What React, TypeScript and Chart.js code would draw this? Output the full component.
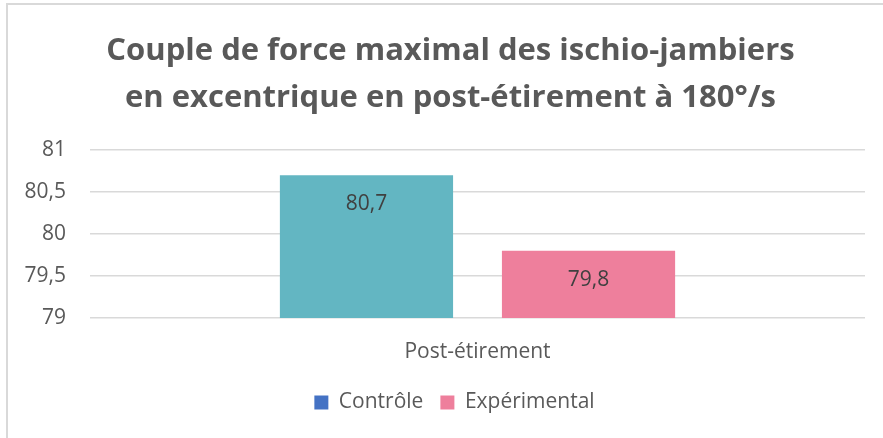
import React, { useEffect, useRef } from "react";
import { Chart, registerables } from "chart.js";

Chart.register(...registerables);

const categories = ["Post-étirement"];
const seriesNames = ["Contrôle", "Expérimental"];
const controle = [80.7];
const experimental = [79.8];
const yTicks = [79, 79.5, 80, 80.5, 81];
const titleLines = [
  "Couple de force maximal des ischio-jambiers",
  "en excentrique en post-étirement à 180°/s",
];

const BAR_COLORS = ["#63B6C2", "#EE7F9C"];
const LEGEND_COLORS = ["#4472C4", "#EE7F9C"];
const FONT = "'Open Sans', 'Noto Sans', sans-serif";

const fmt = (v: number) => String(v).replace(".", ",");

const dataLabelPlugin = {
  id: "dataLabels",
  afterDatasetsDraw(chart: any) {
    const ctx = chart.ctx;
    ctx.save();
    ctx.font = `21px ${FONT}`;
    ctx.fillStyle = "#404040";
    ctx.textAlign = "center";
    ctx.textBaseline = "middle";
    chart.data.datasets.forEach((ds: any, di: number) => {
      const meta = chart.getDatasetMeta(di);
      meta.data.forEach((bar: any, i: number) => {
        ctx.fillText(fmt(ds.data[i]), bar.x, bar.y + 29);
      });
    });
    ctx.restore();
  },
};

// shift title and legend boxes so they centre like the original
const shiftPlugin = {
  id: "shiftBoxes",
  afterLayout(chart: any) {
    const t = chart.titleBlock;
    if (t) {
      t.left += 36;
    }
    const l = chart.legend;
    if (l) {
      l.left += 22;
      l.right += 22;
    }
  },
};

export default function App() {
  const ref = useRef<HTMLCanvasElement | null>(null);
  useEffect(() => {
    if (!ref.current) return;
    const chart = new Chart(ref.current, {
      type: "bar",
      data: {
        labels: categories,
        datasets: [
          { label: seriesNames[0], data: controle, backgroundColor: BAR_COLORS[0] },
          { label: seriesNames[1], data: experimental, backgroundColor: BAR_COLORS[1] },
        ],
      },
      options: {
        animation: false,
        responsive: false,
        maintainAspectRatio: false,
        layout: { padding: { left: 0, right: 18, top: 0, bottom: 15 } },
        datasets: { bar: { categoryPercentage: 0.573, barPercentage: 0.78 } } as any,
        plugins: {
          title: {
            display: true,
            text: titleLines,
            color: "#595959",
            font: { family: FONT, size: 31, weight: "bold", lineHeight: 1.5 },
            padding: { top: 28, bottom: 29 },
          },
          legend: {
            position: "bottom",
            labels: {
              color: "#595959",
              font: { family: FONT, size: 21 },
              boxWidth: 14,
              boxHeight: 14,
              padding: 17,
              generateLabels: (c: any) =>
                c.data.datasets.map((ds: any, i: number) => ({
                  text: ds.label,
                  fillStyle: LEGEND_COLORS[i],
                  strokeStyle: LEGEND_COLORS[i],
                  lineWidth: 0,
                  fontColor: "#595959",
                  hidden: false,
                  datasetIndex: i,
                })),
            },
          },
          tooltip: { enabled: false },
        },
        scales: {
          x: {
            grid: { display: false, drawTicks: false },
            border: { display: false },
            ticks: { color: "#595959", font: { family: FONT, size: 21 }, padding: 21 },
            afterFit: (s: any) => {
              s.height = 57;
            },
          },
          y: {
            min: 79,
            max: 81,
            afterBuildTicks: (s: any) => {
              s.ticks = yTicks.map((v) => ({ value: v }));
            },
            grid: { color: "#D9D9D9", lineWidth: 1.5, drawTicks: false },
            border: { display: false },
            ticks: {
              color: "#595959",
              font: { family: FONT, size: 21 },
              padding: 24,
              callback: (v: any) => fmt(Number(v)),
            },
            afterFit: (s: any) => {
              s.width = 90;
            },
          },
        },
      },
      plugins: [dataLabelPlugin, shiftPlugin],
    });
    return () => chart.destroy();
  }, []);

  return (
    <div style={{ position: "fixed", left: 0, top: 0, width: 883, height: 438, background: "#fff" }}>
      <div
        style={{
          position: "absolute",
          left: 6,
          top: 3,
          right: 0,
          bottom: 0,
          borderLeft: "2px solid #D9D9D9",
          borderTop: "2px solid #D9D9D9",
        }}
      />
      <canvas ref={ref} width={883} height={438} style={{ position: "absolute", left: 0, top: 0 }} />
    </div>
  );
}
